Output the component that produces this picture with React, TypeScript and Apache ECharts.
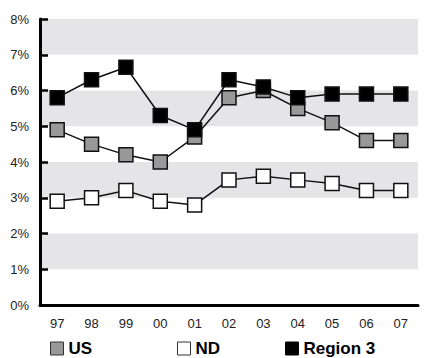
import React, { useEffect, useRef } from "react";
import * as echarts from "echarts";

const years = ["97", "98", "99", "00", "01", "02", "03", "04", "05", "06", "07"];
const usValues = [4.9, 4.5, 4.2, 4.0, 4.7, 5.8, 6.0, 5.5, 5.1, 4.6, 4.6];
const ndValues = [2.9, 3.0, 3.2, 2.9, 2.8, 3.5, 3.6, 3.5, 3.4, 3.2, 3.2];
const region3Values = [5.8, 6.3, 6.65, 5.3, 4.9, 6.3, 6.1, 5.8, 5.9, 5.9, 5.9];

const FONT = "'Liberation Sans Narrow', 'Arial Narrow', 'Liberation Sans', Arial, sans-serif";

export default function App() {
  const ref = useRef<HTMLDivElement>(null);
  useEffect(() => {
    if (!ref.current) return;
    const chart = echarts.init(ref.current, undefined, { renderer: "svg" });
    const mk = (name: string, data: number[], fill: string) => ({
      name,
      type: "line",
      data,
      symbol: "rect",
      symbolSize: 14,
      lineStyle: { color: "#111", width: 1.5 },
      itemStyle: { color: fill, borderColor: "#111", borderWidth: 1.5 },
      z: 3,
    });
    const legendBase = {
      top: 340,
      padding: 0,
      icon: "rect",
      itemWidth: 13,
      itemHeight: 13,
      itemGap: 6,
      textStyle: { fontFamily: FONT, fontSize: 17, fontWeight: "bold", color: "#000", lineHeight: 16 },
    };
    chart.setOption({
      animation: false,
      backgroundColor: "#fff",
      grid: { left: 40, right: 6, top: 19, bottom: 53 },
      legend: [
        { ...legendBase, left: 50, data: [{ name: "US", itemStyle: { color: "#999", borderColor: "#333", borderWidth: 1 } }] },
        { ...legendBase, left: 177, data: [{ name: "ND", itemStyle: { color: "#fff", borderColor: "#333", borderWidth: 1 } }] },
        { ...legendBase, left: 285, data: [{ name: "Region 3", itemStyle: { color: "#000", borderColor: "#000", borderWidth: 1 } }] },
      ],
      xAxis: {
        type: "category",
        data: years,
        boundaryGap: true,
        axisLine: { lineStyle: { color: "#000", width: 3 } },
        axisTick: { inside: true, length: 6, lineStyle: { color: "#000", width: 2.5 } },
        axisLabel: { fontFamily: FONT, fontSize: 13, color: "#222", margin: 12 },
      },
      yAxis: {
        type: "value",
        min: 0,
        max: 8,
        interval: 1,
        axisLine: { show: true, lineStyle: { color: "#000", width: 3 } },
        axisTick: { show: true, inside: true, length: 8, lineStyle: { color: "#000", width: 2.5 } },
        axisLabel: {
          fontFamily: FONT,
          fontSize: 13,
          color: "#222",
          margin: 11,
          padding: [0, 0, 8, 0],
          formatter: (v: number) => v + "%",
        },
        splitLine: { show: false },
        splitArea: { show: true, areaStyle: { color: ["rgba(0,0,0,0)", "#e5e5e7"] } },
      },
      series: [
        mk("US", usValues, "#999999"),
        mk("ND", ndValues, "#ffffff"),
        mk("Region 3", region3Values, "#000000"),
      ],
    });
    return () => chart.dispose();
  }, []);
  return (
    <div
      ref={ref}
      style={{ position: "fixed", left: 0, top: 0, width: 424, height: 358 }}
    />
  );
}
